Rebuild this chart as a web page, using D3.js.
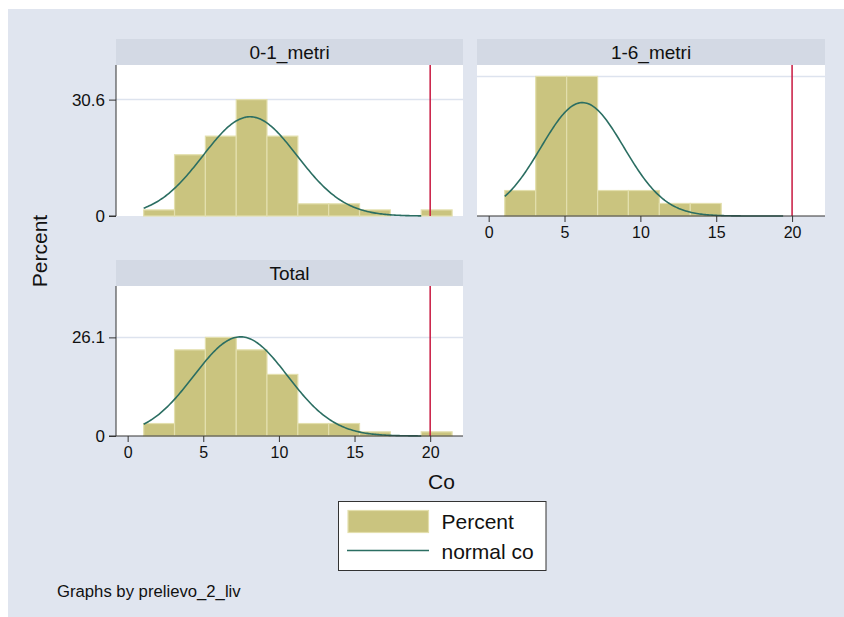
<!DOCTYPE html>
<html>
<head>
<meta charset="utf-8">
<script src="https://cdn.jsdelivr.net/npm/d3@7"></script>
<style>
  html, body { margin: 0; padding: 0; background: #ffffff; }
  svg { display: block; font-family: "Liberation Sans", Arial, sans-serif; }
</style>
</head>
<body>
<svg id="chart" width="844" height="617"></svg>
<script>
// Histogram of Co by prelievo_2_liv, with a fitted normal curve per group
const panelNames = ["0-1_metri", "1-6_metri", "Total"];
const binEdges = [1.06, 3.10, 5.14, 7.18, 9.21, 11.25, 13.29, 15.33, 17.37, 19.41, 21.45];
const pct01 = [1.6, 16.1, 21.0, 30.6, 21.0, 3.2, 3.2, 1.6, 0, 1.6];
const pct16 = [6.7, 36.7, 36.7, 6.7, 6.7, 3.3, 3.3, 0, 0, 0];
const pctTotal = [3.3, 22.8, 26.1, 22.8, 16.3, 3.3, 3.3, 1.1, 0, 1.1];
const normalMean = [8.09, 6.18, 7.47];
const normalSd = [3.12, 2.73, 3.10];
const yTickLabels = ["30.6", "36.7", "26.1"];
const xTicks = [0, 5, 10, 15, 20];
const refLine = 20;

const series = [pct01, pct16, pctTotal];

const C = {
  bg: "#e0e5ef",
  strip: "#d3d9e4",
  plot: "#ffffff",
  grid: "#dde3ee",
  bar: "#cac47f",
  barEdge: "#e3dfad",
  curve: "#2b6e62",
  ref: "#c8173f",
  axis: "#333333",
  text: "#111111"
};

const svg = d3.select("#chart");
svg.append("rect").attr("x", 8).attr("y", 9).attr("width", 836).attr("height", 608).attr("fill", C.bg);

// panel frames: plot area and strip header
const panels = [
  { x0: 116, x1: 463, top: 39, y0: 65, y1: 216, yAxis: true, xAxis: false },
  { x0: 477, x1: 825, top: 39, y0: 65, y1: 216, yAxis: false, xAxis: true },
  { x0: 116, x1: 463, top: 260, y0: 286, y1: 436, yAxis: true, xAxis: true }
];

const yMax = 39.7;
const binWidth = binEdges[1] - binEdges[0];

panels.forEach((p, i) => {
  const g = svg.append("g");
  const x = d3.scaleLinear().domain([-0.77, 22.17]).range([p.x0, p.x1]);
  const y = d3.scaleLinear().domain([0, yMax]).range([p.y1, p.y0]);
  const vals = series[i];
  const maxVal = d3.max(vals);

  // strip
  g.append("rect").attr("x", p.x0).attr("y", p.top).attr("width", p.x1 - p.x0).attr("height", p.y0 - p.top).attr("fill", C.strip);
  g.append("text").attr("x", (p.x0 + p.x1) / 2).attr("y", (p.top + p.y0) / 2).attr("dy", "0.36em")
    .attr("text-anchor", "middle").attr("font-size", 19).attr("fill", C.text).text(panelNames[i]);

  // plot region
  g.append("rect").attr("x", p.x0).attr("y", p.y0).attr("width", p.x1 - p.x0).attr("height", p.y1 - p.y0).attr("fill", C.plot);

  // gridline at the largest bar
  g.append("line").attr("x1", p.x0).attr("x2", p.x1).attr("y1", y(maxVal)).attr("y2", y(maxVal))
    .attr("stroke", C.grid).attr("stroke-width", 1.5);

  // bars
  const bins = vals.map((v, k) => ({ v, a: binEdges[k], b: binEdges[k + 1] })).filter(d => d.v > 0);
  g.selectAll("rect.bar").data(bins).enter().append("rect").attr("class", "bar")
    .attr("x", d => x(d.a)).attr("width", d => x(d.b) - x(d.a))
    .attr("y", d => y(d.v)).attr("height", d => y(0) - y(d.v))
    .attr("fill", C.bar).attr("stroke", C.barEdge).attr("stroke-width", 1.2);

  // normal density scaled to percent per bin
  const mu = normalMean[i], sd = normalSd[i];
  const dens = t => 100 * binWidth * Math.exp(-0.5 * ((t - mu) / sd) ** 2) / (sd * Math.sqrt(2 * Math.PI));
  const pts = d3.range(0, 201).map(k => binEdges[0] + (binEdges[9] - binEdges[0]) * k / 200);
  g.append("path").datum(pts)
    .attr("d", d3.line().x(t => x(t)).y(t => y(dens(t))))
    .attr("fill", "none").attr("stroke", C.curve).attr("stroke-width", 1.6);

  // reference line
  g.append("line").attr("x1", x(refLine)).attr("x2", x(refLine)).attr("y1", p.y0).attr("y2", p.y1)
    .attr("stroke", C.ref).attr("stroke-width", 1.5);

  // y axis
  if (p.yAxis) {
    const ya = d3.axisLeft(y).tickValues([0, maxVal]).tickSize(7).tickPadding(4)
      .tickFormat((d, k) => k === 0 ? "0" : yTickLabels[i]);
    const ag = g.append("g").attr("transform", `translate(${p.x0},0)`).call(ya);
    ag.select(".domain").attr("d", `M-7,${p.y1}H0V${p.y0}`).attr("stroke", C.axis);
    ag.selectAll(".tick line").attr("stroke", C.axis);
    ag.selectAll(".tick text").attr("font-size", 17).attr("fill", C.text).attr("font-family", "Liberation Sans, Arial, sans-serif");
  }
  // x axis
  if (p.xAxis) {
    const xa = d3.axisBottom(x).tickValues(xTicks).tickSize(6).tickPadding(5).tickFormat(d3.format("d"));
    const ag = g.append("g").attr("transform", `translate(0,${p.y1})`).call(xa);
    ag.select(".domain").attr("d", `M${p.x0},0H${p.x1}`).attr("stroke", C.axis);
    ag.selectAll(".tick line").attr("stroke", C.axis);
    ag.selectAll(".tick text").attr("font-size", 16).attr("fill", C.text).attr("font-family", "Liberation Sans, Arial, sans-serif");
  }
});

// axis titles
svg.append("text").attr("transform", "translate(47,251) rotate(-90)").attr("text-anchor", "middle")
  .attr("font-size", 21).attr("fill", C.text).text("Percent");
svg.append("text").attr("x", 441.5).attr("y", 489).attr("text-anchor", "middle")
  .attr("font-size", 21).attr("fill", C.text).text("Co");

// legend
const lg = svg.append("g");
lg.append("rect").attr("x", 338.5).attr("y", 501.5).attr("width", 207.5).attr("height", 69)
  .attr("fill", "#ffffff").attr("stroke", "#333333").attr("stroke-width", 1);
lg.append("rect").attr("x", 348).attr("y", 510.5).attr("width", 80.5).attr("height", 22)
  .attr("fill", C.bar).attr("stroke", C.barEdge).attr("stroke-width", 1.2);
lg.append("line").attr("x1", 347).attr("x2", 429).attr("y1", 550.5).attr("y2", 550.5)
  .attr("stroke", C.curve).attr("stroke-width", 1.6);
lg.append("text").attr("x", 441.5).attr("y", 529).attr("font-size", 21).attr("fill", C.text).text("Percent");
lg.append("text").attr("x", 441.5).attr("y", 559).attr("font-size", 21).attr("fill", C.text).text("normal co");

// note
svg.append("text").attr("x", 57).attr("y", 597).attr("font-size", 16.7).attr("fill", C.text)
  .text("Graphs by prelievo_2_liv");
</script>
</body>
</html>
